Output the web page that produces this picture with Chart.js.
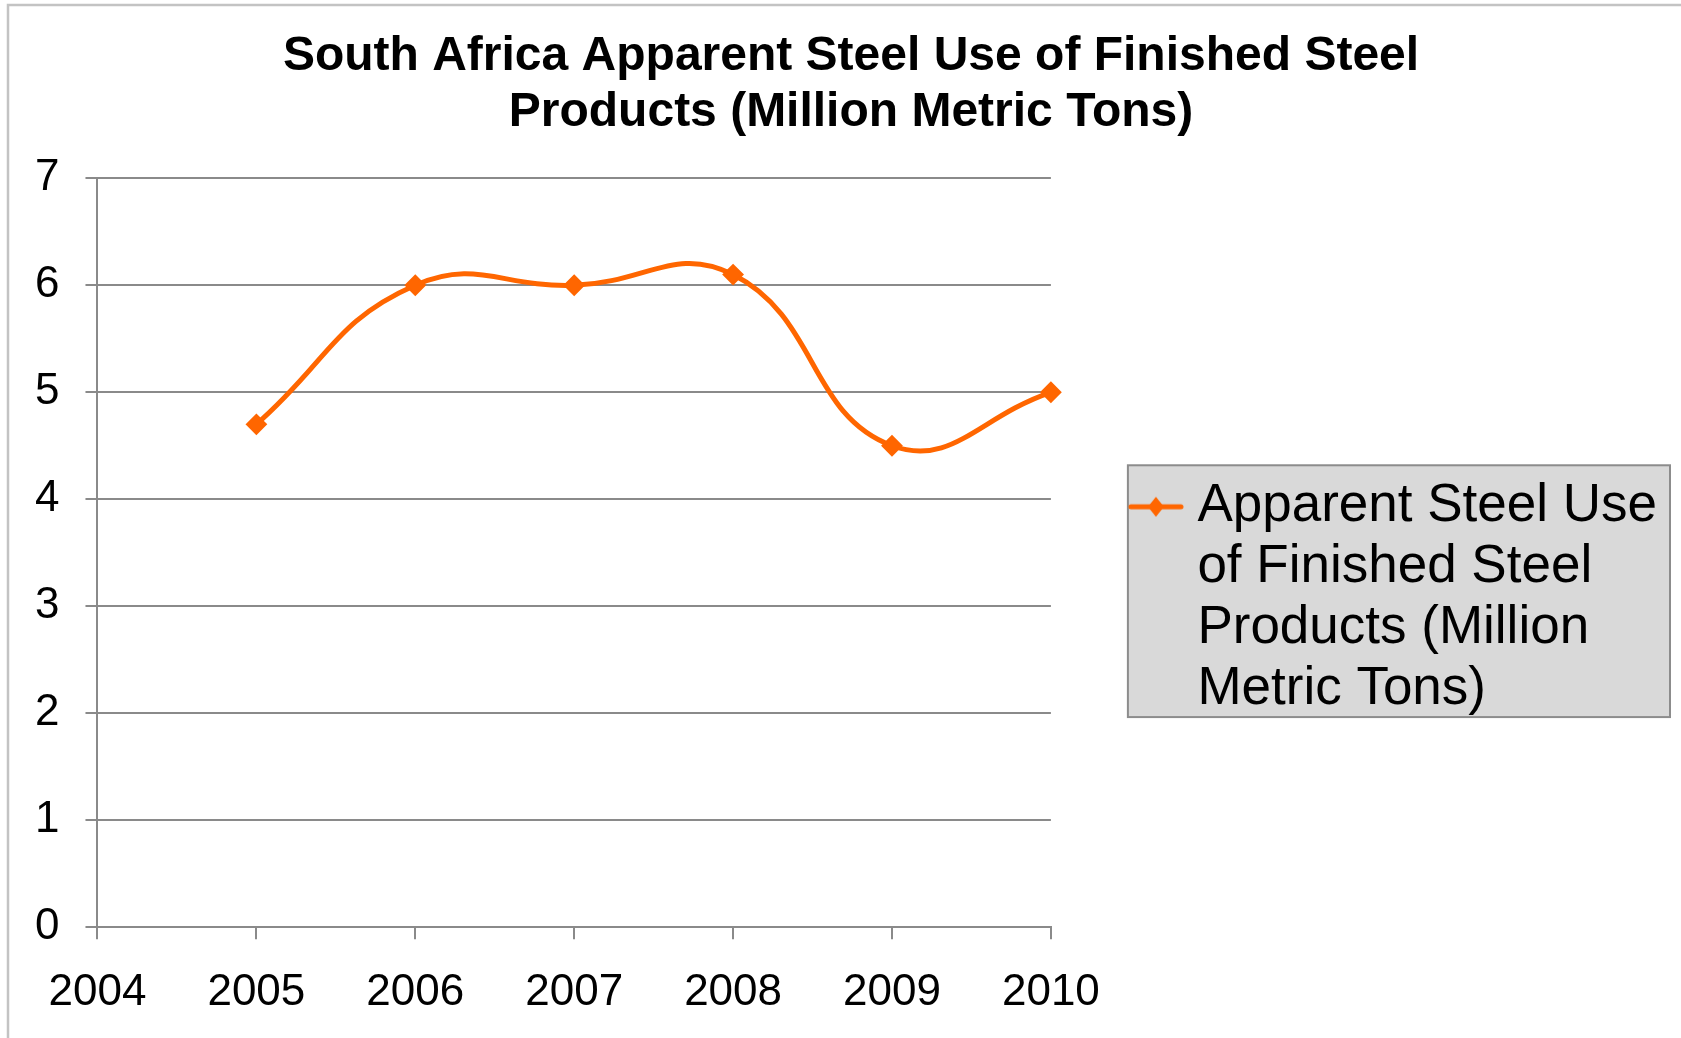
<!DOCTYPE html>
<html>
<head>
<meta charset="utf-8">
<script src="https://cdn.jsdelivr.net/npm/chart.js@4.4.1/dist/chart.umd.min.js"></script>
<style>
  html, body { margin: 0; padding: 0; background: #fff; }
  canvas { display: block; }
</style>
</head>
<body>
<canvas id="steelChart" width="1681" height="1038"></canvas>
<script>
// data
const years = ['2004', '2005', '2006', '2007', '2008', '2009', '2010'];
const steelUse = [null, 4.7, 6.0, 6.0, 6.1, 4.5, 5.0];
const yTicks = [0, 1, 2, 3, 4, 5, 6, 7];
const titleLines = ['South Africa Apparent Steel Use of Finished Steel', 'Products (Million Metric Tons)'];
const seriesName = 'Apparent Steel Use of Finished Steel Products (Million Metric Tons)';
const legendLines = ['Apparent Steel Use', 'of Finished Steel', 'Products (Million', 'Metric Tons)'];

const ORANGE = '#ff6600';
const GRID = '#8a8a8a';
const FONT = "'Liberation Sans', Arial, sans-serif";

// little line + diamond marker, like the Excel legend key
const marker = document.createElement('canvas');
marker.width = 56;
marker.height = 22;
(function() {
    const c = marker.getContext('2d');
    c.strokeStyle = ORANGE;
    c.lineWidth = 5;
    c.lineCap = 'round';
    c.beginPath();
    c.moveTo(3, 11);
    c.lineTo(53, 11);
    c.stroke();
    c.fillStyle = ORANGE;
    c.beginPath();
    c.moveTo(28, 1);
    c.lineTo(36, 11);
    c.lineTo(28, 21);
    c.lineTo(20, 11);
    c.closePath();
    c.fill();
})();

// outer frame and grey legend panel
const framePlugin = {
    id: 'frame',
    beforeDraw(chart) {
        const ctx = chart.ctx;
        ctx.save();
        ctx.strokeStyle = '#c3c3c3';
        ctx.lineWidth = 2.5;
        ctx.strokeRect(8, 5, chart.width + 20, chart.height + 20);

        const hb = chart.legend && chart.legend.legendHitBoxes && chart.legend.legendHitBoxes[0];
        if (hb) {
            const x = hb.left - 13, y = hb.top - 15;
            const w = hb.width + 26, h = hb.height + 8;
            ctx.fillStyle = '#d9d9d9';
            ctx.fillRect(x, y, w, h);
            ctx.strokeStyle = '#8c8c8c';
            ctx.lineWidth = 2;
            ctx.strokeRect(x, y, w, h);
        }
        ctx.restore();
    }
};

// chart.js reserves the tick padding twice in the axis size; take one back
function trimPadding(scale) {
    if (scale.isHorizontal()) {
        scale.height -= scale.options.ticks.padding;
    } else {
        scale.width -= scale.options.ticks.padding;
    }
}

new Chart(document.getElementById('steelChart'), {
    type: 'line',
    data: {
        labels: years,
        datasets: [{
            label: seriesName,
            data: steelUse,
            borderColor: ORANGE,
            backgroundColor: ORANGE,
            borderWidth: 5,
            tension: 0.45,
            fill: false,
            clip: false,
            pointStyle: 'rectRot',
            pointRadius: 9.5,
            pointBorderWidth: 2,
            pointBackgroundColor: ORANGE,
            pointBorderColor: ORANGE
        }]
    },
    options: {
        responsive: false,
        animation: false,
        layout: { padding: { top: 18, right: 14, bottom: 19, left: 35 } },
        scales: {
            x: {
                offset: false,
                afterFit: trimPadding,
                grid: { drawOnChartArea: false, color: GRID, lineWidth: 2, tickLength: 12 },
                border: { color: GRID, width: 2 },
                ticks: { color: '#000', font: { family: FONT, size: 44 }, padding: 27, maxRotation: 0, autoSkip: false }
            },
            y: {
                min: yTicks[0],
                max: yTicks[yTicks.length - 1],
                afterFit: trimPadding,
                grid: { color: GRID, lineWidth: 2, tickLength: 12 },
                border: { color: GRID, width: 2 },
                ticks: { stepSize: 1, color: '#000', font: { family: FONT, size: 44 }, padding: 26 }
            }
        },
        plugins: {
            title: {
                display: true,
                text: titleLines,
                color: '#000',
                font: { family: FONT, size: 48, weight: 'bold', lineHeight: 1.18 },
                padding: { top: 10, bottom: 37 }
            },
            legend: {
                position: 'right',
                align: 'start',
                fullSize: false,
                maxWidth: 700,
                // empty title just pushes the key down to where the original has it
                title: { display: true, text: '', font: { size: 10 }, padding: { top: 200, bottom: 0 } },
                labels: {
                    color: '#000',
                    font: { family: FONT, size: 53, lineHeight: 1.15 },
                    usePointStyle: true,
                    pointStyleWidth: 30,
                    padding: 90,
                    generateLabels(chart) {
                        const items = Chart.defaults.plugins.legend.labels.generateLabels(chart);
                        items.forEach(function(it) {
                            it.text = legendLines;
                            it.pointStyle = marker;
                        });
                        return items;
                    }
                }
            },
            tooltip: { enabled: false }
        }
    },
    plugins: [framePlugin]
});
</script>
</body>
</html>
